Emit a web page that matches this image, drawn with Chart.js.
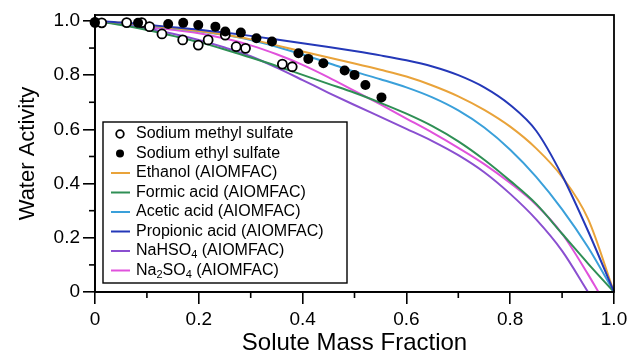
<!DOCTYPE html>
<html>
<head>
<meta charset="utf-8">
<script src="https://cdn.jsdelivr.net/npm/chart.js@4.4.1/dist/chart.umd.min.js"></script>
<style>
  html, body { margin: 0; padding: 0; background: #ffffff; }
  #wrap { width: 632px; height: 358px; position: relative; }
</style>
</head>
<body>
<div id="wrap"><canvas id="c" width="632" height="358"></canvas></div>
<script>
// ---- data ----
const xTitle = "Solute Mass Fraction";
const yTitle = "Water Activity";
const majorTicks = [0, 0.2, 0.4, 0.6, 0.8, 1.0];
const minorTicks = [0.1, 0.3, 0.5, 0.7, 0.9];

const methylX = [0.0, 0.013, 0.061, 0.090, 0.105, 0.129, 0.169, 0.199, 0.218, 0.251, 0.272, 0.290, 0.361, 0.380];
const methylY = [0.995, 0.993, 0.994, 0.994, 0.979, 0.952, 0.930, 0.911, 0.930, 0.948, 0.905, 0.899, 0.841, 0.831];

const ethylX = [0.0, 0.083, 0.141, 0.170, 0.199, 0.232, 0.251, 0.281, 0.311, 0.341, 0.392, 0.411, 0.440, 0.481, 0.500, 0.521, 0.552];
const ethylY = [0.994, 0.993, 0.989, 0.993, 0.985, 0.979, 0.961, 0.957, 0.936, 0.924, 0.881, 0.860, 0.844, 0.817, 0.801, 0.764, 0.718];

const organicX   = [0, 0.05, 0.1, 0.15, 0.2, 0.25, 0.3, 0.35, 0.4, 0.45, 0.5, 0.55, 0.6, 0.65, 0.7, 0.75, 0.8, 0.85, 0.9, 0.95, 1.0];
const ethanolY   = [1, 0.993, 0.984, 0.974, 0.963, 0.949, 0.932, 0.910, 0.887, 0.865, 0.843, 0.820, 0.795, 0.762, 0.722, 0.672, 0.610, 0.530, 0.425, 0.270, 0];
const formicY    = [1, 0.985, 0.967, 0.945, 0.922, 0.895, 0.865, 0.834, 0.801, 0.768, 0.735, 0.698, 0.658, 0.612, 0.556, 0.488, 0.410, 0.325, 0.215, 0.105, 0];
const aceticY    = [1, 0.992, 0.983, 0.973, 0.962, 0.948, 0.930, 0.905, 0.876, 0.845, 0.813, 0.785, 0.755, 0.718, 0.670, 0.607, 0.525, 0.425, 0.305, 0.165, 0];
const propionicY = [1, 0.994, 0.986, 0.977, 0.968, 0.957, 0.945, 0.932, 0.918, 0.904, 0.889, 0.873, 0.855, 0.832, 0.800, 0.755, 0.690, 0.595, 0.430, 0.225, 0];

const nahso4X = [0, 0.05, 0.1, 0.15, 0.2, 0.25, 0.3, 0.35, 0.4, 0.45, 0.5, 0.55, 0.6, 0.65, 0.7, 0.75, 0.8, 0.85, 0.9, 0.95];
const nahso4Y = [1, 0.988, 0.972, 0.953, 0.930, 0.902, 0.870, 0.828, 0.782, 0.735, 0.690, 0.646, 0.602, 0.557, 0.505, 0.442, 0.362, 0.268, 0.152, 0];

const na2so4X = [0, 0.05, 0.1, 0.15, 0.2, 0.25, 0.3, 0.35, 0.4, 0.45, 0.5, 0.55, 0.6, 0.65, 0.7, 0.75, 0.8, 0.85, 0.9, 0.95, 0.97];
const na2so4Y = [1, 0.990, 0.978, 0.968, 0.955, 0.935, 0.910, 0.877, 0.838, 0.792, 0.742, 0.692, 0.640, 0.588, 0.532, 0.472, 0.402, 0.322, 0.215, 0.065, 0];

const seriesNames = [
  "Sodium methyl sulfate",
  "Sodium ethyl sulfate",
  "Ethanol (AIOMFAC)",
  "Formic acid (AIOMFAC)",
  "Acetic acid (AIOMFAC)",
  "Propionic acid (AIOMFAC)",
  "NaHSO4 (AIOMFAC)",
  "Na2SO4 (AIOMFAC)"
];
// legend label pieces: text runs, with subscripts marked
const legendRuns = [
  [["Sodium methyl sulfate", false]],
  [["Sodium ethyl sulfate", false]],
  [["Ethanol (AIOMFAC)", false]],
  [["Formic acid (AIOMFAC)", false]],
  [["Acetic acid (AIOMFAC)", false]],
  [["Propionic acid (AIOMFAC)", false]],
  [["NaHSO", false], ["4", true], [" (AIOMFAC)", false]],
  [["Na", false], ["2", true], ["SO", false], ["4", true], [" (AIOMFAC)", false]]
];

// ---- styles ----
const colors = {
  ethanol: "#e9a33a",
  formic: "#2f8f55",
  acetic: "#3aa0da",
  propionic: "#2438b8",
  nahso4: "#8a4fd0",
  na2so4: "#e052dc"
};
const FONT = "'Liberation Sans', Arial, Helvetica, sans-serif";

function pts(xs, ys) { return xs.map((x, i) => ({ x: x, y: ys[i] })); }

function lineDs(label, xs, ys, color, order) {
  return {
    type: "line", label: label, data: pts(xs, ys),
    borderColor: color, backgroundColor: color, borderWidth: 2,
    pointRadius: 0, fill: false, cubicInterpolationMode: "monotone",
    order: order, clip: false
  };
}

const datasets = [
  {
    type: "scatter", label: seriesNames[0], data: pts(methylX, methylY),
    pointRadius: 4.5, pointBorderWidth: 1.8, pointBorderColor: "#000",
    pointBackgroundColor: "#fff", showLine: false, order: 1, clip: false
  },
  {
    type: "scatter", label: seriesNames[1], data: pts(ethylX, ethylY),
    pointRadius: 5, pointBorderWidth: 0, pointBorderColor: "#000",
    pointBackgroundColor: "#000", showLine: false, order: 0, clip: false
  },
  lineDs(seriesNames[2], organicX, ethanolY, colors.ethanol, 5),
  lineDs(seriesNames[3], organicX, formicY, colors.formic, 5),
  lineDs(seriesNames[4], organicX, aceticY, colors.acetic, 5),
  lineDs(seriesNames[5], organicX, propionicY, colors.propionic, 4),
  lineDs(seriesNames[6], nahso4X, nahso4Y, colors.nahso4, 5),
  lineDs(seriesNames[7], na2so4X, na2so4Y, colors.na2so4, 5)
];

const frameAndLegend = {
  id: "frameAndLegend",
  beforeDatasetsDraw(chart) {
    const ctx = chart.ctx;
    const xs = chart.scales.x, ys = chart.scales.y;
    ctx.save();
    ctx.strokeStyle = "#000";
    ctx.lineWidth = 1.6;
    minorTicks.forEach(v => {
      const px = xs.getPixelForValue(v);
      ctx.beginPath(); ctx.moveTo(px, ys.bottom); ctx.lineTo(px, ys.bottom + 6); ctx.stroke();
      const py = ys.getPixelForValue(v);
      ctx.beginPath(); ctx.moveTo(xs.left, py); ctx.lineTo(xs.left - 6, py); ctx.stroke();
    });
    ctx.restore();
  },
  afterDatasetsDraw(chart) {
    const ctx = chart.ctx;
    const a = chart.chartArea;
    ctx.save();
    ctx.strokeStyle = "#000";
    ctx.lineWidth = 1.8;
    ctx.strokeRect(a.left, a.top, a.right - a.left, a.bottom - a.top);

    const bx = a.left + 8, by = a.top + 107, bw = 244, bh = 161;
    ctx.fillStyle = "#fff";
    ctx.fillRect(bx, by, bw, bh);
    ctx.lineWidth = 1.4;
    ctx.strokeRect(bx, by, bw, bh);

    const rowH = 19.5;
    const y0 = by + 12;
    const symX = bx + 17;
    const textX = bx + 33;
    ctx.textBaseline = "middle";
    ctx.textAlign = "left";
    legendRuns.forEach((runs, i) => {
      const y = y0 + i * rowH;
      if (i === 0) {
        ctx.beginPath(); ctx.arc(symX, y, 3.8, 0, Math.PI * 2);
        ctx.fillStyle = "#fff"; ctx.fill();
        ctx.lineWidth = 1.8; ctx.strokeStyle = "#000"; ctx.stroke();
      } else if (i === 1) {
        ctx.beginPath(); ctx.arc(symX, y, 4, 0, Math.PI * 2);
        ctx.fillStyle = "#000"; ctx.fill();
      } else {
        ctx.beginPath(); ctx.moveTo(symX - 9, y); ctx.lineTo(symX + 10, y);
        ctx.lineWidth = 2; ctx.strokeStyle = datasets[i].borderColor; ctx.stroke();
      }
      ctx.fillStyle = "#000";
      let x = textX;
      runs.forEach(r => {
        ctx.font = (r[1] ? "11px " : "16px ") + FONT;
        ctx.fillText(r[0], x, r[1] ? y + 4 : y);
        x += ctx.measureText(r[0]).width;
      });
    });
    ctx.restore();
  }
};

new Chart(document.getElementById("c"), {
  data: { datasets: datasets },
  options: {
    responsive: false,
    animation: false,
    devicePixelRatio: 1,
    layout: { padding: { top: 15, right: 18, left: 0, bottom: 0 } },
    plugins: { legend: { display: false }, tooltip: { enabled: false } },
    scales: {
      x: {
        type: "linear", min: 0, max: 1.0,
        afterFit(s) { s.height = 66; },
        afterBuildTicks(s) { s.ticks = majorTicks.map(v => ({ value: v })); },
        ticks: {
          color: "#000", font: { family: FONT, size: 19 }, padding: 4,
          maxRotation: 0, autoSkip: false,
          callback: v => (v === 0 ? "0" : Number(v).toFixed(1))
        },
        grid: { drawOnChartArea: false, drawTicks: true, tickLength: 12, color: "#000", lineWidth: 1.6 },
        border: { display: true, color: "#000", width: 1.8 },
        title: { display: true, text: xTitle, color: "#000", font: { family: FONT, size: 24 }, padding: { top: 0, bottom: 0 } }
      },
      y: {
        type: "linear", min: 0, max: 1.022,
        afterFit(s) { s.width = 95; },
        afterBuildTicks(s) { s.ticks = majorTicks.map(v => ({ value: v })); },
        ticks: {
          color: "#000", font: { family: FONT, size: 19 }, padding: 3,
          autoSkip: false,
          callback: v => (v === 0 ? "0" : Number(v).toFixed(1))
        },
        grid: { drawOnChartArea: false, drawTicks: true, tickLength: 12, color: "#000", lineWidth: 1.6 },
        border: { display: true, color: "#000", width: 1.8 },
        title: { display: true, text: yTitle, color: "#000", font: { family: FONT, size: 22 }, padding: { top: 15, bottom: 0 } }
      }
    }
  },
  plugins: [frameAndLegend]
});
</script>
</body>
</html>
